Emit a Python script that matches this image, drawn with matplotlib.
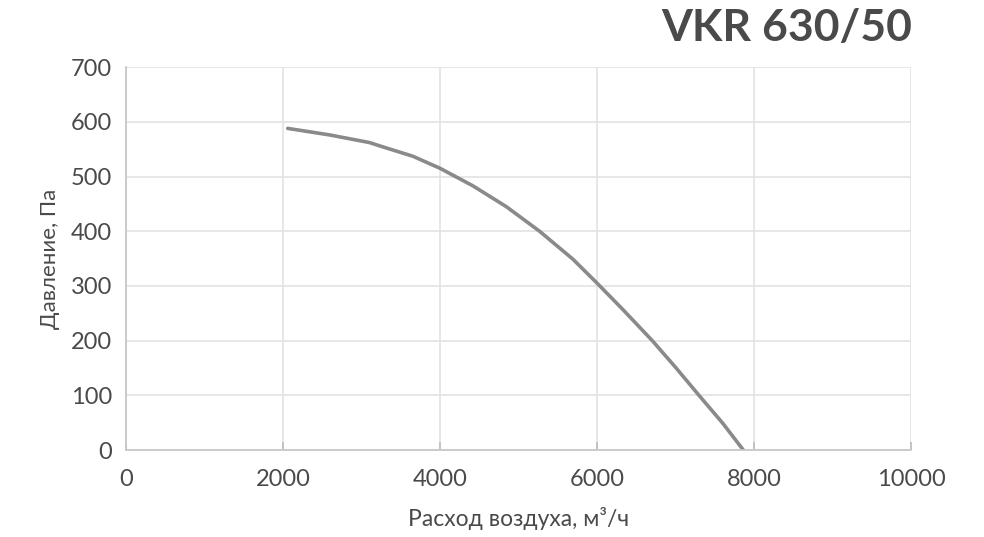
import numpy as np
import matplotlib
matplotlib.use("Agg")
from matplotlib import pyplot as plt

# данные кривой (расход, м3/ч -> давление, Па)
flow = [2060, 2595, 3104, 3232, 3655, 4000, 4418, 4843, 5267, 5691, 6000,
        6327, 6709, 7006, 7303, 7600, 7862]
pressure = [588, 576, 562, 556, 537, 515, 483, 445, 400, 349, 305,
            257, 199, 150, 99, 49, 0]

xticks = [0, 2000, 4000, 6000, 8000, 10000]
yticks = [0, 100, 200, 300, 400, 500, 600, 700]

plt.rcParams['font.family'] = ['Lato', 'DejaVu Sans']

fig = plt.figure(figsize=(9.84, 5.37), dpi=100)
ax = fig.add_axes([0.128, 0.162, 0.798, 0.713])

ax.plot(flow, pressure, color="#8a8a8a", lw=2.6, solid_capstyle="round",
        solid_joinstyle="round")

ax.set_xlim(0, 10000)
ax.set_ylim(0, 700)
ax.set_xticks(xticks)
ax.set_yticks(yticks)
ax.grid(True, color="#e3e3e3", lw=1.2)
ax.set_axisbelow(True)

for s in ["top", "right"]:
    ax.spines[s].set_visible(False)
for s in ["left", "bottom"]:
    ax.spines[s].set_color("#c8c8c8")
    ax.spines[s].set_linewidth(1.3)

ax.tick_params(axis="y", length=0)
ax.tick_params(axis="x", direction="in", length=6, width=1.3, color="#c0c0c0")
ax.tick_params(labelsize=17, labelcolor="#4a4a4a")
ax.tick_params(axis="x", pad=14)
ax.tick_params(axis="y", pad=10)

ax.set_xlabel("Расход воздуха, м³/ч", fontsize=16.5, color="#4a4a4a", labelpad=12)
ax.set_ylabel("Давление, Па", fontsize=16, color="#4a4a4a", labelpad=8)

fig.text(0.927, 0.947, "VKR 630/50", ha="right", va="center", fontsize=32,
         fontweight="bold", color="#4a4a4a")

fig.savefig("out.png", dpi=100)
